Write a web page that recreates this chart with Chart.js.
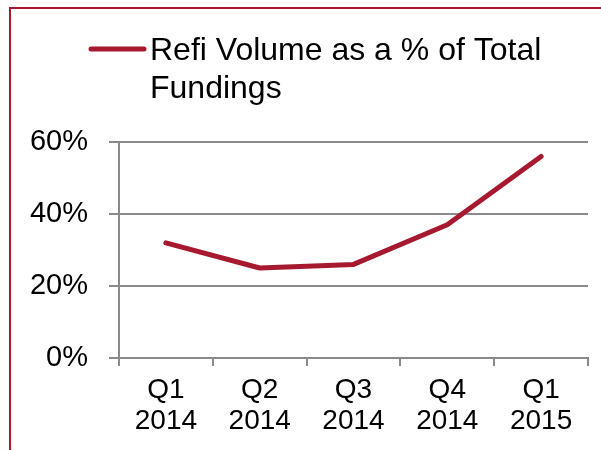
<!DOCTYPE html>
<html>
<head>
<meta charset="utf-8">
<script src="https://cdn.jsdelivr.net/npm/chart.js@4/dist/chart.umd.min.js"></script>
<style>
    html, body { margin: 0; padding: 0; background: #fff; overflow: hidden; }
    #wrap { position: relative; width: 601px; height: 450px; }
    #frame { position: absolute; left: 9px; top: 7px; width: 700px; height: 600px;
        border-left: 2px solid #a6192e; border-top: 2px solid #a6192e; pointer-events: none; }
    canvas { position: absolute; left: 0; top: 0; }
</style>
</head>
<body>
<div id="wrap">
    <canvas id="chart" width="601" height="450"></canvas>
    <div id="frame"></div>
</div>
<script>
// --- Data ---
const quarters = [['Q1', '2014'], ['Q2', '2014'], ['Q3', '2014'], ['Q4', '2014'], ['Q1', '2015']];
const refiShare = [32, 25, 26, 37, 56];
const seriesLabel = ['Refi Volume as a % of Total', 'Fundings'];
const yTicks = [0, 20, 40, 60];

const FONT = "'Liberation Sans', Arial, sans-serif";
const GRID = '#8a8a8a';
const RED = '#a6192e';

// --- Legend drawn by hand so the label can wrap onto two lines ---
const wrappedLegend = {
    id: 'wrappedLegend',
    afterDraw(chart) {
        const ds = chart.data.datasets[0];
        const ctx = chart.ctx;
        ctx.save();
        ctx.strokeStyle = ds.borderColor;
        ctx.lineWidth = 5;
        ctx.lineCap = 'round';
        ctx.beginPath();
        ctx.moveTo(91, 49);
        ctx.lineTo(144, 49);
        ctx.stroke();
        ctx.fillStyle = '#000';
        ctx.font = `32px ${FONT}`;
        ctx.textBaseline = 'alphabetic';
        ds.label.forEach((line, i) => ctx.fillText(line, 150, 60 + i * 38));
        ctx.restore();
    }
};

new Chart(document.getElementById('chart'), {
    type: 'line',
    data: {
        labels: quarters,
        datasets: [{
            label: seriesLabel,
            data: refiShare,
            borderColor: RED,
            borderWidth: 5,
            pointRadius: 0,
            tension: 0,
            borderCapStyle: 'round',
            borderJoinStyle: 'round'
        }]
    },
    options: {
        responsive: false,
        animation: false,
        layout: { padding: { top: 142, right: 13, left: 0, bottom: 0 } },
        plugins: { legend: { display: false }, tooltip: { enabled: false } },
        scales: {
            x: {
                offset: true,
                afterFit: (s) => { s.height = 92; },
                grid: { offset: true, drawOnChartArea: false, drawTicks: true, tickLength: 8, color: GRID, lineWidth: 2 },
                border: { display: true, color: GRID, width: 2 },
                ticks: { color: '#000', padding: 9, maxRotation: 0, autoSkip: false,
                    font: { family: FONT, size: 28, lineHeight: 1.1 } }
            },
            y: {
                min: yTicks[0],
                max: yTicks[yTicks.length - 1],
                afterFit: (s) => { s.width = 119; },
                afterBuildTicks: (s) => { s.ticks = yTicks.map(v => ({ value: v })); },
                grid: { color: GRID, lineWidth: 2, tickLength: 10 },
                border: { display: true, color: GRID, width: 2 },
                ticks: { color: '#000', padding: 21, callback: (v) => v + '%',
                    font: { family: FONT, size: 29 } }
            }
        }
    },
    plugins: [wrappedLegend]
});
</script>
</body>
</html>
